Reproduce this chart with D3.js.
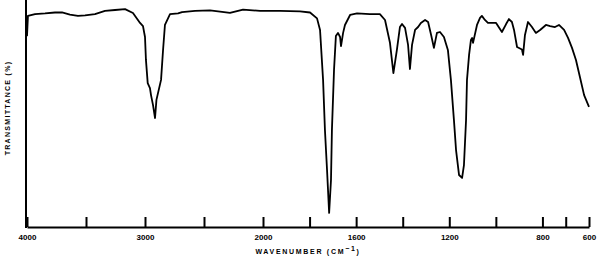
<!DOCTYPE html>
<html>
<head>
<meta charset="utf-8">
<title>IR spectrum</title>
<script src="https://d3js.org/d3.v7.min.js"></script>
<style>
* { margin: 0; padding: 0; }
body { background: #fff; }
svg { display: block; }
</style>
</head>
<body>
<script>
// wavenumbers (cm-1) and transmittance (%)
var wavenumber = [4000, 3992, 3932, 3847, 3763, 3703, 3636, 3568, 3508, 3424, 3339, 3254, 3169, 3102,
  3042, 3017, 3000, 2992, 2977, 2958, 2949, 2932, 2915, 2903, 2864, 2847, 2831, 2788, 2720, 2686,
  2576, 2449, 2364, 2280, 2169, 2025, 1927, 1841, 1798, 1768, 1755, 1742, 1734, 1725, 1716, 1708,
  1704, 1695, 1687, 1678, 1669, 1665, 1656, 1648, 1626, 1596, 1541, 1498, 1476, 1455, 1440, 1425,
  1412, 1403, 1390, 1377, 1369, 1360, 1347, 1334, 1322, 1304, 1291, 1278, 1266, 1253, 1240, 1223,
  1206, 1193, 1180, 1171, 1158, 1145, 1137, 1128, 1124, 1115, 1107, 1102, 1098, 1081, 1068, 1060,
  1047, 1034, 999, 974, 956, 944, 931, 922, 909, 888, 883, 875, 862, 845, 828, 810, 785, 767, 746,
  729, 707, 690, 673, 656, 639, 621, 600];
var transmittance = [84.1, 93.0, 93.8, 94.1, 94.5, 94.5, 93.6, 93.0, 93.2, 93.8, 95.2, 95.6, 96.0, 94.3,
  89.9, 88.5, 83.7, 73.6, 63.4, 61.2, 58.1, 53.7, 48.0, 56.0, 64.8, 78.0, 89.0, 93.8, 94.1, 94.7,
  95.2, 95.4, 94.9, 94.3, 95.8, 95.2, 95.2, 95.0, 94.5, 91.9, 86.8, 64.8, 42.7, 25.1, 6.2, 20.7,
  42.7, 69.2, 84.1, 85.5, 83.7, 79.7, 85.5, 89.0, 93.4, 94.1, 93.8, 93.8, 91.2, 81.3, 67.8, 78.0,
  88.1, 89.4, 87.7, 80.2, 69.6, 80.2, 86.8, 88.1, 89.9, 91.2, 90.3, 84.6, 78.9, 85.5, 85.9, 83.7,
  78.0, 64.8, 47.1, 33.9, 22.9, 21.6, 27.3, 47.1, 64.8, 75.8, 82.4, 83.3, 81.1, 89.0, 92.1, 93.0,
  91.2, 89.9, 89.9, 85.9, 89.4, 91.6, 90.3, 86.8, 79.3, 78.2, 75.8, 84.6, 90.3, 88.1, 85.5, 86.8,
  89.0, 88.5, 88.1, 89.0, 86.8, 83.3, 78.9, 73.6, 66.1, 58.1, 52.9];

var tickValues = [4000, 3500, 3000, 2500, 2000, 1800, 1600, 1400, 1200, 1000, 800, 700, 600];
var tickLabels = [4000, 3000, 2000, 1600, 1200, 800, 600];

var width = 599, height = 259;

var svg = d3.select("body").append("svg")
  .attr("width", width)
  .attr("height", height);

// scale changes at 2000 cm-1, as on the paper chart
var x = d3.scaleLinear().domain([4000, 2000, 600]).range([27, 263, 589]);
var y = d3.scaleLinear().domain([0, 100]).range([227, 0]);

var xAxis = d3.axisBottom(x)
  .tickValues(tickValues)
  .tickSizeInner(-10)
  .tickSizeOuter(0)
  .tickPadding(7)
  .tickFormat(function(d) { return tickLabels.indexOf(d) >= 0 ? d : ""; });

var gx = svg.append("g")
  .attr("transform", "translate(0," + y(0) + ")")
  .call(xAxis);

gx.select(".domain").attr("stroke", "#000").attr("stroke-width", 2);
gx.selectAll(".tick line").attr("stroke", "#000").attr("stroke-width", 2);
gx.selectAll(".tick text")
  .attr("fill", "#000")
  .style("font-family", "Liberation Sans, Arial, sans-serif")
  .style("font-weight", "bold")
  .style("font-size", "8px");

// left edge of the chart
svg.append("line")
  .attr("x1", 26).attr("x2", 26)
  .attr("y1", 0).attr("y2", y(0) + 1)
  .attr("stroke", "#000")
  .attr("stroke-width", 2);

var pts = wavenumber.map(function(d, i) { return [d, transmittance[i]]; });

var line = d3.line()
  .x(function(d) { return x(d[0]); })
  .y(function(d) { return y(d[1]); });

svg.append("path")
  .datum(pts)
  .attr("d", line)
  .attr("fill", "none")
  .attr("stroke", "#000")
  .attr("stroke-width", 1.8)
  .attr("stroke-linejoin", "round");

// axis titles
var t = svg.append("text")
  .attr("x", 308)
  .attr("y", 254)
  .attr("text-anchor", "middle")
  .style("font-family", "Liberation Sans, Arial, sans-serif")
  .style("font-weight", "bold")
  .style("font-size", "7px")
  .style("letter-spacing", "1.7px");
t.append("tspan").text("WAVENUMBER (CM");
t.append("tspan").attr("dy", -3).text("\u22121");
t.append("tspan").attr("dy", 3).text(")");

svg.append("text")
  .attr("transform", "translate(10,108) rotate(-90)")
  .attr("text-anchor", "middle")
  .style("font-family", "Liberation Sans, Arial, sans-serif")
  .style("font-weight", "bold")
  .style("font-size", "7px")
  .style("letter-spacing", "1.3px")
  .text("TRANSMITTANCE (%)");
</script>
</body>
</html>
